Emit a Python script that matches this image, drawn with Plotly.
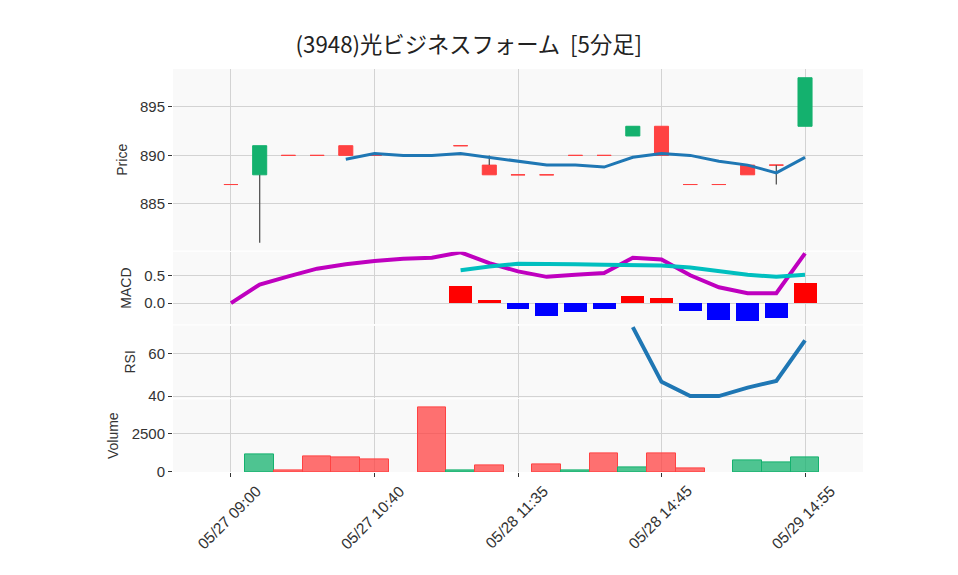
import plotly.graph_objects as go
from plotly.subplots import make_subplots

# ---- data ----
idx = list(range(21))
tick_pos = [0, 5, 10, 15, 20]
tick_labels = ["05/27 09:00", "05/27 10:40", "05/28 11:35", "05/28 14:45", "05/29 14:55"]

opens  = [887, 888, 890, 890, 891, 890, 890, 890, 891, 889, 888, 888, 890, 890, 892, 893, 887, 887, 889, 889, 893]
highs  = [887, 891, 890, 890, 891, 890, 890, 890, 891, 890, 888, 888, 890, 890, 893, 893, 887, 887, 889, 889, 898]
lows   = [887, 881, 890, 890, 890, 890, 890, 890, 891, 888, 888, 888, 890, 890, 892, 890, 887, 887, 888, 887, 893]
closes = [887, 891, 890, 890, 890, 890, 890, 890, 891, 888, 888, 888, 890, 890, 893, 890, 887, 887, 888, 889, 898]

ma5 = [None, None, None, None, 889.6, 890.2, 890.0, 890.0, 890.2, 889.8, 889.4,
       889.0, 889.0, 888.8, 889.8, 890.2, 890.0, 889.4, 889.0, 888.2, 889.8]

macd = [0.0, 0.34, 0.49, 0.63, 0.71, 0.77, 0.81, 0.83, 0.93, 0.73, 0.58,
        0.48, 0.52, 0.55, 0.83, 0.80, 0.51, 0.29, 0.18, 0.18, 0.91]
signal = [None] * 8 + [0.60, 0.67, 0.72, 0.72, 0.71, 0.70, 0.70, 0.69, 0.65, 0.59, 0.52, 0.48, 0.52]
hist = [None] * 8 + [0.31, 0.056, -0.11, -0.23, -0.16, -0.11, 0.13, 0.09, -0.14, -0.30, -0.33, -0.27, 0.37]

rsi = [None] * 14 + [72.5, 46.7, 40.0, 40.0, 44.0, 47.1, 66.2]

volume = [0, 1120, 100, 1000, 940, 810, 0, 4190, 100, 440, 0,
          500, 125, 1230, 310, 1230, 250, 0, 730, 625, 940]

# ---- styles ----
GREEN = "#14B16E"
RED = "#FF4242"
VGREEN = "rgba(20,177,110,0.75)"
VRED = "rgba(255,66,66,0.75)"
FONT = "Liberation Sans, Arial, Noto Sans CJK JP, sans-serif"
TXT = "#333333"

fig = make_subplots(rows=4, cols=1, shared_xaxes=True,
                    row_heights=[5, 2, 2, 2], vertical_spacing=0.003)

# wicks (only the parts outside the bodies)
wx, wy = [], []
for i in idx:
    top = max(opens[i], closes[i])
    bot = min(opens[i], closes[i])
    if highs[i] > top:
        wx += [i, i, None]
        wy += [top, highs[i], None]
    if lows[i] < bot:
        wx += [i, i, None]
        wy += [lows[i], bot, None]
fig.add_trace(go.Scatter(x=wx, y=wy, mode="lines",
                         line=dict(color="#555555", width=1.3),
                         hoverinfo="skip", showlegend=False), row=1, col=1)

# bodies: up candles and down/flat candles
def body(sel, color):
    o = [opens[i] if sel(i) else None for i in idx]
    c = [closes[i] if sel(i) else None for i in idx]
    hi = [max(opens[i], closes[i]) if sel(i) else None for i in idx]
    lo = [min(opens[i], closes[i]) if sel(i) else None for i in idx]
    return go.Candlestick(x=idx, open=o, high=hi, low=lo, close=c,
                          increasing=dict(line=dict(color=color, width=1), fillcolor=color),
                          decreasing=dict(line=dict(color=color, width=1), fillcolor=color),
                          showlegend=False)

fig.add_trace(body(lambda i: closes[i] > opens[i], GREEN), row=1, col=1)
fig.add_trace(body(lambda i: closes[i] <= opens[i], RED), row=1, col=1)

fig.add_trace(go.Scatter(x=idx, y=ma5, mode="lines",
                         line=dict(color="#1f77b4", width=3), showlegend=False), row=1, col=1)

# MACD
hist_colors = ["#FF0000" if (h is not None and h >= 0) else "#0000FF" for h in hist]
fig.add_trace(go.Bar(x=idx, y=hist, marker=dict(color=hist_colors, line=dict(width=0)),
                     width=0.8, showlegend=False), row=2, col=1)
fig.add_trace(go.Scatter(x=idx, y=macd, mode="lines",
                         line=dict(color="#BF00BF", width=4), showlegend=False), row=2, col=1)
fig.add_trace(go.Scatter(x=idx, y=signal, mode="lines",
                         line=dict(color="#00BFBF", width=4), showlegend=False), row=2, col=1)

# RSI
fig.add_trace(go.Scatter(x=idx, y=rsi, mode="lines",
                         line=dict(color="#1f77b4", width=4), showlegend=False), row=3, col=1)

# Volume
vcol = [VRED] + [VGREEN if closes[i] > closes[i - 1] else VRED for i in idx[1:]]
vline = [RED] + [GREEN if closes[i] > closes[i - 1] else RED for i in idx[1:]]
vlw = [1 if v > 0 else 0 for v in volume]
fig.add_trace(go.Bar(x=idx, y=volume, width=1,
                     marker=dict(color=vcol, line=dict(color=vline, width=vlw)),
                     showlegend=False), row=4, col=1)

axis_common = dict(showgrid=True, gridcolor="#D3D3D3", gridwidth=1,
                   zeroline=False, ticks="outside", ticklen=4, tickcolor="#333",
                   tickfont=dict(size=15, color=TXT, family=FONT),
                   showline=False)

for r in range(1, 5):
    fig.update_xaxes(range=[-2.02, 22.02], tickvals=tick_pos, ticktext=tick_labels,
                     rangeslider=dict(visible=False), showticklabels=False,
                     row=r, col=1, **axis_common)
    if r < 4:
        fig.update_xaxes(ticks="", row=r, col=1)

# x tick labels rotated about their centre
for p, t in zip(tick_pos, tick_labels):
    fig.add_annotation(x=p, xref="x4", y=-0.1117, yref="paper", text=t,
                       textangle=-45, showarrow=False, xanchor="center", yanchor="middle",
                       xshift=-2, font=dict(size=15.5, color=TXT, family=FONT))

fig.update_yaxes(range=[880.2, 898.9], tickvals=[885, 890, 895], row=1, col=1, **axis_common)
fig.update_yaxes(range=[-0.39, 0.94], tickvals=[0.0, 0.5], tickformat=".1f", row=2, col=1, **axis_common)
fig.update_yaxes(range=[39, 73.2], tickvals=[40, 60], row=3, col=1, **axis_common)
fig.update_yaxes(range=[0, 4700], tickvals=[0, 2500], row=4, col=1, **axis_common)

titles = ["Price", "MACD", "RSI", "Volume"]
for r, t in enumerate(titles, start=1):
    fig.update_yaxes(title=dict(text=t, standoff=9, font=dict(size=14, color=TXT, family=FONT)),
                     row=r, col=1)

fig.update_layout(
    width=958, height=575,
    title=dict(text="(3948)光ビジネスフォーム  [5分足]", x=0.481, xanchor="center",
               y=1 - 37 / 575, yanchor="middle",
               font=dict(size=22.3, color="#222", family="Noto Sans CJK JP, sans-serif")),
    margin=dict(l=165, r=103, t=61, b=111),
    paper_bgcolor="white", plot_bgcolor="#F9F9F9",
    bargap=0, boxgap=0.3, showlegend=False,
    font=dict(family=FONT, color=TXT),
)

fig.write_html("out.html")
